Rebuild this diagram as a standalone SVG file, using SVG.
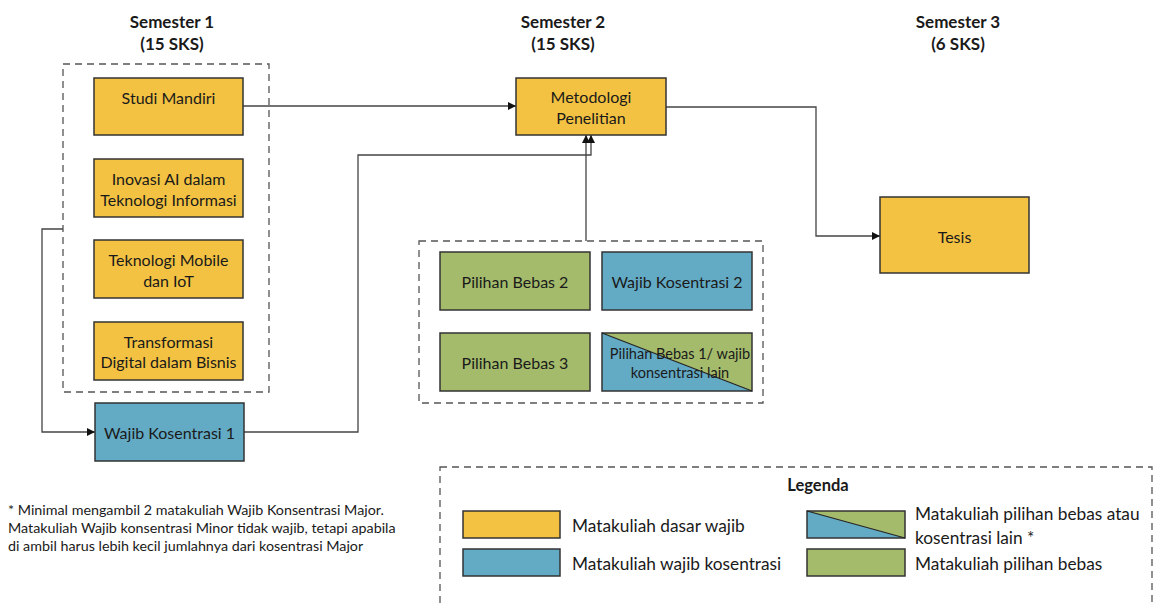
<svg xmlns="http://www.w3.org/2000/svg" width="1162" height="604" viewBox="0 0 1162 604">
<defs>
<style>
text{font-family:Lato,"Liberation Sans",sans-serif;fill:#1a1a1a}
.hd{font-size:17px;font-weight:bold;text-anchor:middle}
.bx{font-size:16px;text-anchor:middle;dominant-baseline:central}
.lg{font-size:17.3px;dominant-baseline:central}
.fn{font-size:14.3px}
.y{fill:#F3C242;stroke:#333;stroke-width:1.5}
.b{fill:#63AAC5;stroke:#333;stroke-width:1.5}
.g{fill:#A4BB6B;stroke:#333;stroke-width:1.5}
.dash{fill:none;stroke:#555;stroke-width:1.3;stroke-dasharray:7,5}
.c{fill:none;stroke:#444;stroke-width:1.3}
</style>
<marker id="ah" viewBox="0 0 10 10" refX="10" refY="5" markerWidth="8" markerHeight="8" markerUnits="userSpaceOnUse" orient="auto">
<path d="M0,0 L10,5 L0,10 z" fill="#111"/>
</marker>
</defs>
<rect width="1162" height="604" fill="#fff"/>

<g id="headers">
<text class="hd" x="172" y="28">Semester 1</text>
<text class="hd" x="172" y="50">(15 SKS)</text>
<text class="hd" x="563" y="28">Semester 2</text>
<text class="hd" x="563" y="50">(15 SKS)</text>
<text class="hd" x="958" y="28">Semester 3</text>
<text class="hd" x="958" y="50">(6 SKS)</text>
</g>

<g id="sem1-group"><rect class="dash" x="63" y="64" width="206" height="328"/></g>
<g id="sem2-group"><rect class="dash" x="419" y="241" width="344" height="162"/></g>

<g id="connectors">
<path class="c" d="M243,106 H516" marker-end="url(#ah)"/>
<path class="c" d="M63,229 H42 V432 H95" marker-end="url(#ah)"/>
<path class="c" d="M244,432 H358 V155 H591 V135" marker-end="url(#ah)"/>
<path class="c" d="M586,241 V135" marker-end="url(#ah)"/>
<path class="c" d="M666,107 H816 V236 H880" marker-end="url(#ah)"/>
</g>

<g id="studi-mandiri"><rect class="y" x="94" y="78" width="149" height="57"/><text class="bx" x="168.5" y="97">Studi Mandiri</text></g>
<g id="inovasi-ai"><rect class="y" x="94" y="159" width="149" height="58"/><text class="bx" x="168.5" y="178">Inovasi AI dalam</text><text class="bx" x="168.5" y="199">Teknologi Informasi</text></g>
<g id="teknologi-mobile"><rect class="y" x="94" y="240" width="149" height="58"/><text class="bx" x="168.5" y="259">Teknologi Mobile</text><text class="bx" x="168.5" y="280">dan IoT</text></g>
<g id="transformasi-digital"><rect class="y" x="94" y="322" width="149" height="58"/><text class="bx" x="168.5" y="341">Transformasi</text><text class="bx" x="168.5" y="361">Digital dalam Bisnis</text></g>
<g id="wajib-kosentrasi-1"><rect class="b" x="95" y="403" width="149" height="58"/><text class="bx" x="169.5" y="432">Wajib Kosentrasi 1</text></g>

<g id="metodologi-penelitian"><rect class="y" x="516" y="78" width="150" height="57"/><text class="bx" x="591" y="96">Metodologi</text><text class="bx" x="591" y="117">Penelitian</text></g>

<g id="pilihan-bebas-2"><rect class="g" x="440" y="252" width="150" height="58"/><text class="bx" x="515" y="281">Pilihan Bebas 2</text></g>
<g id="wajib-kosentrasi-2"><rect class="b" x="602" y="252" width="150" height="58"/><text class="bx" x="677" y="281">Wajib Kosentrasi 2</text></g>
<g id="pilihan-bebas-3"><rect class="g" x="440" y="333" width="150" height="58"/><text class="bx" x="515" y="362">Pilihan Bebas 3</text></g>
<g id="pilihan-bebas-1">
<polygon points="602,333 752,391 602,391" fill="#63AAC5"/>
<polygon points="602,333 752,333 752,391" fill="#A4BB6B"/>
<rect x="602" y="333" width="150" height="58" fill="none" stroke="#333" stroke-width="1.5"/>
<line x1="602" y1="333" x2="752" y2="391" stroke="#222" stroke-width="1.2"/>
<text class="bx" x="680" y="353" style="font-size:14.5px">Pilihan Bebas 1/ wajib</text><text class="bx" x="680" y="372" style="font-size:14.5px">konsentrasi lain</text>
</g>

<g id="tesis"><rect class="y" x="880" y="197" width="149" height="76"/><text class="bx" x="954.5" y="236">Tesis</text></g>

<g id="footnote">
<text class="fn" x="8" y="515">* Minimal mengambil 2 matakuliah Wajib Konsentrasi Major.</text>
<text class="fn" x="8" y="533">Matakuliah Wajib konsentrasi Minor tidak wajib, tetapi apabila</text>
<text class="fn" x="8" y="551">di ambil harus lebih kecil jumlahnya dari kosentrasi Major</text>
</g>

<g id="legend">
<rect class="dash" x="440" y="467" width="712" height="160"/>
<text class="hd" x="818" y="491" style="font-size:16.5px">Legenda</text>
<rect class="y" x="463" y="511" width="97" height="27"/>
<text class="lg" x="572" y="525">Matakuliah dasar wajib</text>
<rect class="b" x="463" y="549" width="97" height="27"/>
<text class="lg" x="572" y="563">Matakuliah wajib kosentrasi</text>
<polygon points="807,511 905,538 807,538" fill="#63AAC5"/>
<polygon points="807,511 905,511 905,538" fill="#A4BB6B"/>
<rect x="807" y="511" width="98" height="27" fill="none" stroke="#333" stroke-width="1.5"/>
<line x1="807" y1="511" x2="905" y2="538" stroke="#222" stroke-width="1.2"/>
<text class="lg" x="915" y="513">Matakuliah pilihan bebas atau</text>
<text class="lg" x="915" y="537">kosentrasi lain *</text>
<rect class="g" x="807" y="549" width="98" height="27"/>
<text class="lg" x="915" y="563">Matakuliah pilihan bebas</text>
</g>
</svg>
